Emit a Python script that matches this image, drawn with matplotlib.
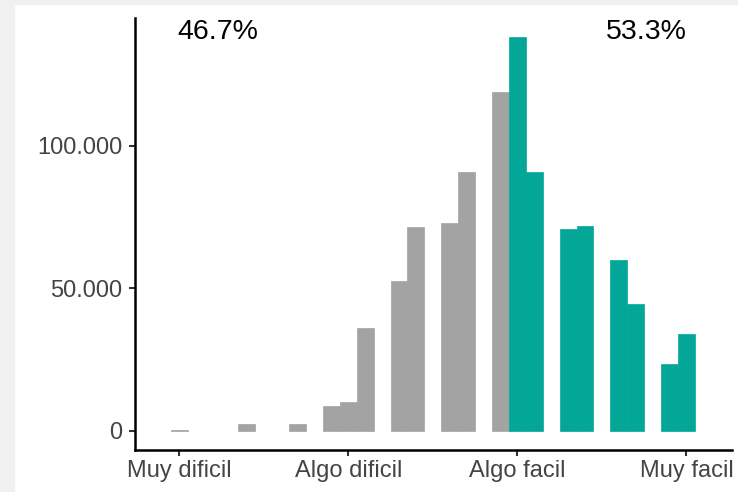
import numpy as np
import matplotlib.pyplot as plt
from matplotlib.patches import Rectangle

# histogram bins (centre of each bin on the 1-4 scale) and counts
bin_centers = [1.0, 1.4, 1.7, 1.9, 2.0, 2.1, 2.3, 2.4, 2.6, 2.7, 2.9,
               3.0, 3.1, 3.3, 3.4, 3.6, 3.7, 3.9, 4.0]
counts = [400, 2300, 2300, 8600, 10000, 36200, 52500, 71500, 73100, 91000, 118900,
          138100, 91000, 71000, 71900, 60000, 44500, 23400, 34200]
bin_width = 0.1

tick_pos = [1, 2, 3, 4]
tick_labels = ["Muy dificil", "Algo dificil", "Algo facil", "Muy facil"]
y_ticks = [0, 50000, 100000]
y_labels = ["0", "50.000", "100.000"]
share_labels = ["46.7%", "53.3%"]
share_x = [1.23, 3.76]

gray = "#a3a3a3"
teal = "#04a797"

plt.rcParams['font.family'] = ['Liberation Sans', 'DejaVu Sans']

fig = plt.figure(figsize=(7.38, 4.92), dpi=100)
ax = fig.add_axes([135 / 738, 1 - 450 / 492, (731.7 - 135) / 738, (450 - 18) / 492])

colors = [gray if c < 2.95 else teal for c in bin_centers]
ax.bar(bin_centers, counts, width=bin_width, color=colors, edgecolor=colors, linewidth=0.5)

for lab, x in zip(share_labels, share_x):
    ax.text(x, 140000, lab, ha="center", va="center", fontsize=20.5, color="black")

ax.set_xlim(0.738, 4.268)
ax.set_ylim(-6667, 144900)
ax.set_xticks(tick_pos)
ax.set_xticklabels(tick_labels)
ax.set_yticks(y_ticks)
ax.set_yticklabels(y_labels)
ax.tick_params(axis="both", labelsize=17, labelcolor="#444444", color="#333333",
               length=4, width=1.5)
ax.tick_params(axis="y", pad=5)
for s in ["top", "right"]:
    ax.spines[s].set_visible(False)
for s in ["left", "bottom"]:
    ax.spines[s].set_linewidth(1.8)

# light gray edges of the screenshot
fig.patches.append(Rectangle((0, 0), 14 / 738, 1, transform=fig.transFigure,
                             color="#f0f0f0", zorder=-1))
fig.patches.append(Rectangle((0, 1 - 4 / 492), 1, 4 / 492, transform=fig.transFigure,
                             color="#f0f0f0", zorder=-1))

fig.savefig("out.png", dpi=100)
